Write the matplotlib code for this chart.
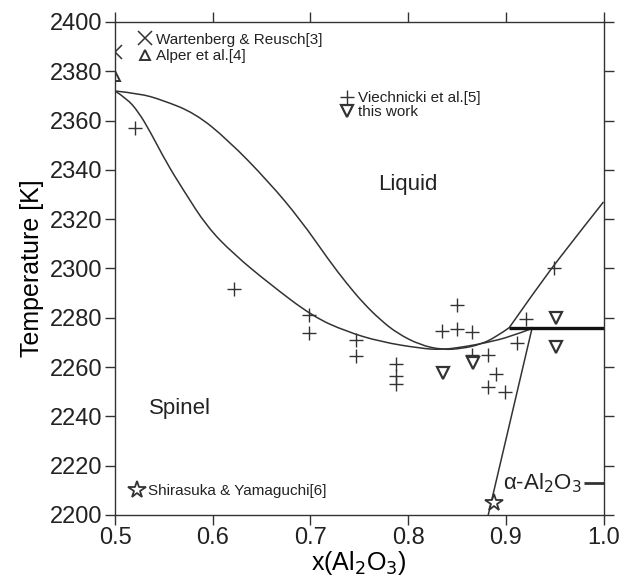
import matplotlib
matplotlib.use('Agg')
import matplotlib.pyplot as plt
from matplotlib.path import Path
from matplotlib.patches import PathPatch

dark = '#333333'

# liquidus, spinel side (x(Al2O3), T [K])
liq_x = [0.500, 0.525, 0.548, 0.582, 0.616, 0.657, 0.690, 0.719, 0.737, 0.754,
         0.772, 0.789, 0.812, 0.835, 0.855, 0.874, 0.890, 0.9035]
liq_T = [2372, 2371, 2368.4, 2363, 2352, 2335.3, 2319.7, 2303.3, 2294, 2286,
         2279, 2273.7, 2269, 2267, 2267.5, 2269.2, 2272.2, 2276]
# liquidus, Al2O3 side
liq2_x = [0.9035, 0.930, 0.960, 1.000]
liq2_T = [2276, 2291, 2307, 2327]
# solidus of spinel
sol_x = [0.500, 0.512, 0.524, 0.536, 0.553, 0.570, 0.594, 0.621, 0.659, 0.703,
         0.737, 0.7715, 0.8125, 0.835, 0.860, 0.880, 0.9047, 0.927]
sol_T = [2372, 2369, 2363.5, 2355.5, 2342.7, 2331.8, 2317, 2306, 2293.5, 2280.4,
         2274.4, 2270.3, 2267.6, 2267, 2268.4, 2269.9, 2272.3, 2275.7]
# spinel solvus
solv_x = [0.927, 0.882]
solv_T = [2276, 2200]
# eutectic
eut_x = [0.9035, 1.0]
eut_T = [2276, 2276]
# label leader for alpha-Al2O3
lead_x = [0.980, 1.0]
lead_T = [2213, 2213]

wart_x, wart_T = [0.5], [2388]
alper_x, alper_T = [0.5], [2378]
viech_x = [0.5205, 0.622, 0.699, 0.699, 0.7467, 0.7467, 0.788, 0.788, 0.788,
           0.835, 0.850, 0.850, 0.8655, 0.865, 0.8815, 0.890, 0.8815, 0.8995,
           0.9115, 0.921, 0.9495]
viech_T = [2357, 2291.6, 2281.2, 2274, 2271, 2264.5, 2261.3, 2256.4, 2253.2,
           2274.8, 2285.2, 2275.5, 2274.4, 2265, 2265, 2257, 2252, 2250,
           2269.6, 2279.4, 2300.3]
this_x = [0.836, 0.866, 0.951, 0.951]
this_T = [2257.5, 2261.5, 2279.8, 2268.3]
shira_x, shira_T = [0.888], [2205]


def smooth_curve(ax, xs, ys, **kw):
    # quadratic bezier through midpoints, drawn by matplotlib
    pts = list(zip(xs, ys))
    verts = [pts[0]]
    codes = [Path.MOVETO]
    for i in range(1, len(pts) - 1):
        mid = ((pts[i][0] + pts[i + 1][0]) / 2, (pts[i][1] + pts[i + 1][1]) / 2)
        if i == len(pts) - 2:
            mid = pts[-1]
        verts += [pts[i], mid]
        codes += [Path.CURVE3, Path.CURVE3]
    ax.add_patch(PathPatch(Path(verts, codes), fill=False, **kw))


plt.rcParams['font.family'] = ['Liberation Sans', 'DejaVu Sans']
plt.rcParams['text.color'] = '#222222'

fig = plt.figure(figsize=(6.2, 5.85), dpi=100)
ax = fig.add_axes([0.1855, 0.1197, 0.7879, 0.8427])

smooth_curve(ax, liq_x, liq_T, edgecolor=dark, lw=1.1)
smooth_curve(ax, liq2_x, liq2_T, edgecolor=dark, lw=1.1)
smooth_curve(ax, sol_x, sol_T, edgecolor=dark, lw=1.1)
ax.plot(solv_x, solv_T, color=dark, lw=1.1)
ax.plot(eut_x, eut_T, color='#111111', lw=2.4, solid_capstyle='butt')
ax.plot(lead_x, lead_T, color=dark, lw=2.0, solid_capstyle='butt')

h1, = ax.plot(wart_x, wart_T, ls='none', marker='x', ms=10, mew=1.1, color=dark,
              label='Wartenberg & Reusch[3]')
h2, = ax.plot(alper_x, alper_T, ls='none', marker='^', ms=7, mew=1.4, mfc='white',
              color=dark, label='Alper et al.[4]')
h3, = ax.plot(viech_x, viech_T, ls='none', marker='+', ms=10, mew=1.0, color=dark,
              label='Viechnicki et al.[5]')
h4, = ax.plot(this_x, this_T, ls='none', marker='v', ms=9, mew=1.6, mfc='white',
              color=dark, label='this work')
h5, = ax.plot(shira_x, shira_T, ls='none', marker='*', ms=13, mew=1.3, mfc='white',
              color=dark, label='Shirasuka & Yamaguchi[6]')

legkw = dict(frameon=False, fontsize=11, handlelength=0.8, handletextpad=0.3,
             borderpad=0, borderaxespad=0, loc='upper left')
l1 = ax.legend(handles=[h1, h2], labelspacing=0.15, bbox_to_anchor=(0.049, 0.978), **legkw)
ax.add_artist(l1)
l2 = ax.legend(handles=[h3, h4], labelspacing=0.0, bbox_to_anchor=(0.462, 0.860), **legkw)
ax.add_artist(l2)
ax.legend(handles=[h5], bbox_to_anchor=(0.033, 0.063), **legkw)

ax.text(0.80, 2334, 'Liquid', fontsize=16, ha='center', va='center')
ax.text(0.566, 2243, 'Spinel', fontsize=16, ha='center', va='center')
ax.text(0.8975, 2213, 'α-Al$_2$O$_3$', fontsize=16, ha='left', va='center')

ax.set_xlim(0.5, 1.0)
ax.set_ylim(2200, 2400)
ax.set_xticks([0.5, 0.6, 0.7, 0.8, 0.9, 1.0])
ax.set_yticks(range(2200, 2401, 20))
ax.set_xticklabels(['0.5', '0.6', '0.7', '0.8', '0.9', '1.0'])
ax.tick_params(which='both', direction='out', length=7, width=1.0, color=dark,
               labelsize=17, labelcolor='#222222', top=True, right=True, pad=2)
for s in ax.spines.values():
    s.set_color(dark)
    s.set_linewidth(1.0)

ax.set_xlabel('x(Al$_2$O$_3$)', fontsize=18, labelpad=0)
ax.set_ylabel('Temperature [K]', fontsize=18, labelpad=4)

fig.savefig('out.png', dpi=100)
